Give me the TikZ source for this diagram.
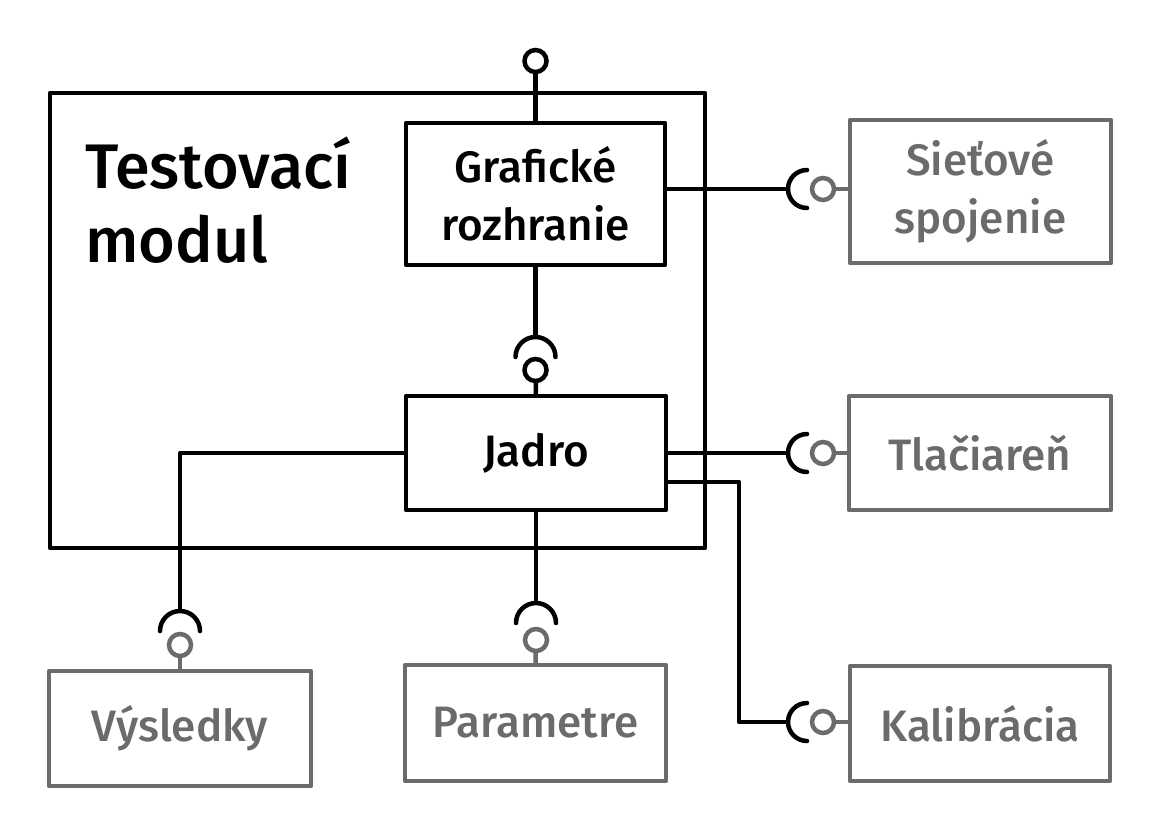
\documentclass[tikz,border=0pt]{standalone}
\usepackage{fontspec}
\setmainfont{Fira Sans}[UprightFont=* Medium,BoldFont=* SemiBold]
\definecolor{lgray}{HTML}{6B6B6B}
\tikzset{
  blk/.style={draw=black,line width=4.5pt,line join=round},
  box/.style={rectangle,draw=black,line width=4.5pt,line join=round,inner sep=0pt,outer sep=0pt,align=center,font=\fontsize{44}{58}\selectfont},
  gbox/.style={box,draw=lgray,text=lgray},
  lol/.style={circle,draw=black,line width=4.5pt,minimum size=22pt,inner sep=0pt,outer sep=0pt},
  glol/.style={lol,draw=lgray},
  sock/.style={draw=black,line width=4.5pt,line cap=round},
  gln/.style={draw=lgray,line width=4.5pt},
  title/.style={anchor=base west,inner sep=0pt,font=\fontsize{63}{74}\selectfont}
}
\begin{document}
\begin{tikzpicture}[x=1pt,y=1pt]
\useasboundingbox (0,0) rectangle (1161,-836);
% outer module
\draw[blk] (50,-93) rectangle (705,-548);
\node[title] (t1) at (85,-188) {Testovací};
\node[title] (t2) at (85,-262) {modul};
% boxes
\node[box,minimum width=259pt,minimum height=142pt] (graf) at (535.5,-194) {Grafické\\rozhranie};
\node[box,minimum width=260pt,minimum height=114pt] (jadro) at (536,-453) {Jadro};
\node[gbox,minimum width=261pt,minimum height=143pt] (siet) at (980.5,-191.5) {Sieťové\\spojenie};
\node[gbox,minimum width=262pt,minimum height=114pt] (tlac) at (980,-453) {Tlačiareň};
\node[gbox,minimum width=260pt,minimum height=115pt] (kal) at (980,-723.5) {Kalibrácia};
\node[gbox,minimum width=262pt,minimum height=115pt] (vys) at (180,-728.5) {Výsledky};
\node[gbox,minimum width=261pt,minimum height=116pt] (par) at (535.5,-723) {Parametre};
% top lollipop
\node[lol] (ltop) at (535.5,-61) {};
\draw[blk] (ltop) -- (graf.north);
% graf -> jadro
\coordinate (sgj) at (535.5,-337);
\draw[blk] (graf.south) -- (sgj);
\draw[sock] (sgj) ++(-20,-20) arc[start angle=180,end angle=0,radius=20];
\node[lol] (lgj) at (535.5,-370) {};
\draw[blk] (lgj) -- (jadro.north);
% graf -> siet
\coordinate (ss) at (788,-189);
\draw[blk] (graf.east |- ss) -- (ss);
\draw[sock] (ss) ++(19,19) arc[start angle=90,end angle=270,radius=19];
\node[glol] (ls) at (823,-189) {};
\draw[gln] (ls) -- (siet.west |- ls);
% jadro -> tlac
\coordinate (st) at (788,-453);
\draw[blk] (jadro.east) -- (st);
\draw[sock] (st) ++(19,19) arc[start angle=90,end angle=270,radius=19];
\node[glol] (lt) at (823,-453) {};
\draw[gln] (lt) -- (tlac.west);
% jadro -> kal
\coordinate (sk) at (788,-722);
\draw[blk] ([yshift=-29pt]jadro.east) -| (739,-722) -- (sk);
\draw[sock] (sk) ++(19,19) arc[start angle=90,end angle=270,radius=19];
\node[glol] (lk) at (823,-722) {};
\draw[gln] (lk) -- (kal.west |- lk);
% jadro -> vys
\coordinate (sv) at (180,-611);
\draw[blk] (jadro.west) -| (sv);
\draw[sock] (sv) ++(-20,-20) arc[start angle=180,end angle=0,radius=20];
\node[glol] (lv) at (180,-645) {};
\draw[gln] (lv) -- (vys.north);
% jadro -> par
\coordinate (sp) at (536,-603);
\draw[blk] (jadro.south) -- (sp);
\draw[sock] (sp) ++(-20,-20) arc[start angle=180,end angle=0,radius=20];
\node[glol] (lp) at (536,-640) {};
\draw[gln] (lp) -- (par.north);
\end{tikzpicture}
\end{document}
